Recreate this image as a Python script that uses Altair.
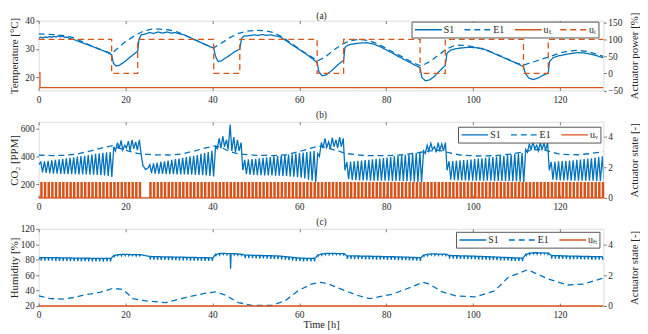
import altair as alt
import pandas as pd

BLUE = "#0072BD"
ORANGE = "#D95319"
INK = "#262626"
FONT = "Liberation Serif"

X_DOMAIN = [0, 130]
X_TICKS = [0, 20, 40, 60, 80, 100, 120]

# ---------------- panel (a): temperature / actuator power ----------------
TEMP_S1 = [(0, 33.8), (0.5, 34.2), (1, 33.9), (1.5, 34.3), (2, 34.0), (2.5, 34.4), (3, 34.1),
           (3.5, 34.5), (4, 34.2), (4.5, 34.6), (5, 34.3), (5.5, 34.5), (6, 34.1), (6.5, 34.2),
           (7, 33.8), (8, 33.4), (9, 32.8), (10, 32.2), (11, 31.7), (12, 31.1), (13, 30.5),
           (14, 29.9), (15, 29.3), (16, 28.6), (16.8, 28.0), (17.2, 25.0), (17.8, 24.0),
           (18.5, 24.2), (19.5, 25.2), (20.5, 26.4), (21.5, 27.7), (22.8, 29.2), (23.1, 33.5),
           (23.6, 35.0), (24.5, 35.3), (25.5, 35.8), (26.5, 35.5), (27.5, 36.0), (28.5, 35.6),
           (29.5, 36.0), (30.5, 35.6), (31.5, 35.8), (32.5, 35.3), (33.5, 35.0), (35, 33.9),
           (36.5, 32.9), (38, 31.8), (39.2, 31.0), (40.3, 30.3), (40.7, 27.5), (41.3, 25.6),
           (42, 25.8), (43, 26.8), (44, 27.8), (45, 28.9), (46.3, 30.0), (46.7, 33.8),
           (47.3, 34.6), (48.5, 34.7), (49.5, 35.0), (50.5, 34.8), (51.5, 35.1), (52.5, 34.8),
           (53.5, 35.0), (54.5, 34.6), (55.5, 34.3), (57, 32.9), (58.5, 31.3), (60, 29.8),
           (61.5, 28.3), (63, 26.6), (64.1, 25.2), (64.5, 22.0), (65.2, 20.6), (66, 20.7),
           (67, 21.8), (68, 23.1), (69, 24.6), (70.2, 26.0), (70.5, 30.5), (71.2, 31.4),
           (72.5, 31.8), (74, 32.1), (75.5, 32.2), (77, 31.8), (78.5, 30.9), (80, 29.7),
           (81.5, 28.5), (83, 27.2), (84.5, 26.0), (86, 24.8), (87.8, 23.4), (88.2, 20.0),
           (89, 18.8), (90, 19.1), (91, 20.2), (92, 21.8), (93.6, 24.2), (94, 28.5),
           (94.8, 29.6), (96, 30.1), (97.5, 30.4), (99, 30.6), (100.5, 30.5), (102, 30.2),
           (103.5, 29.4), (105, 28.3), (106.5, 27.3), (108, 26.3), (109.5, 25.3), (111.6, 23.8),
           (112, 21.5), (112.8, 19.8), (113.8, 19.2), (115, 19.8), (116.2, 20.8), (117.3, 21.5),
           (117.6, 25.5), (118.4, 26.9), (119.5, 27.5), (121, 28.0), (122.5, 28.4), (124, 28.7),
           (125.5, 28.6), (127, 28.2), (128.5, 27.6), (130, 26.9)]

TEMP_E1 = [(0, 35.3), (2, 35.2), (4, 35.0), (6, 34.7), (8, 34.0), (10, 32.6), (12, 31.2),
           (14, 30.0), (16.8, 28.4), (18, 30.0), (20, 32.6), (22, 34.6), (24, 36.2), (26, 37.0),
           (28, 37.0), (30, 36.7), (32, 36.0), (34, 34.6), (36, 33.2), (38, 31.8), (40.3, 30.4),
           (42, 32.0), (44, 34.0), (46, 35.5), (48, 36.3), (50, 36.6), (52, 36.5), (54, 35.8),
           (56, 34.3), (58, 32.2), (60, 30.0), (62, 28.0), (64.2, 25.8), (66, 27.2), (68, 29.7),
           (70, 31.8), (72, 33.0), (74, 33.4), (76, 33.0), (78, 31.8), (80, 30.2), (82, 28.6),
           (84, 27.0), (86, 25.3), (88, 24.0), (90, 25.5), (92, 27.8), (94, 30.1), (96, 31.4),
           (98, 31.3), (100, 30.8), (102, 30.0), (104, 29.0), (106, 27.8), (108, 26.4),
           (110, 25.0), (111.8, 24.4), (114, 25.5), (116, 26.5), (118, 27.5), (120, 28.6),
           (122, 29.3), (124, 29.5), (126, 29.2), (128, 28.4), (130, 27.4)]

U_T = [(0, 21.6), (0.3, 21.6), (0.3, 16.4), (130, 16.4)]

U_I = [(0, 100), (16.8, 100), (16.8, 0), (22.8, 0), (22.8, 100), (40.3, 100), (40.3, 0),
       (46.3, 0), (46.3, 100), (64.1, 100), (64.1, 0), (70.2, 0), (70.2, 100), (87.8, 100),
       (87.8, 0), (93.6, 0), (93.6, 100), (111.6, 100), (111.6, 0), (117.3, 0), (117.3, 100),
       (130, 100)]

# ---------------- panel (b): CO2 / ventilation ----------------
PULSE_T = [
    0.50, 1.34, 2.18, 3.02, 3.86, 4.70, 5.54, 6.38, 7.22, 8.06, 8.90, 9.74, 10.58, 11.42,
    12.26, 13.10, 13.94, 14.78, 15.62, 16.46,
    17.30, 18.14, 18.98, 19.82, 20.66, 21.50, 22.34, 23.18,
    25.60, 26.44, 27.28, 28.12, 28.96, 29.80, 30.64, 31.48, 32.32, 33.16, 34.00, 34.84,
    35.68, 36.52, 37.36, 38.20, 39.04, 39.88,
    40.72, 41.56, 42.40, 43.24, 44.08, 44.92, 45.76, 46.60,
    47.44, 48.28, 49.12, 49.96, 50.80, 51.64, 52.48, 53.32, 54.16, 55.00, 55.84, 56.68,
    57.52, 58.36, 59.20, 60.04, 60.88, 61.72, 62.56, 63.40,
    64.24, 65.08, 65.92, 66.76, 67.60, 68.44, 69.28, 70.12,
    70.96, 71.80, 72.64, 73.48, 74.32, 75.16, 76.00, 76.84, 77.68, 78.52, 79.36, 80.20,
    81.04, 81.88, 82.72, 83.56, 84.40, 85.24, 86.08, 86.92, 87.76,
    88.60, 89.44, 90.28, 91.12, 91.96, 92.80, 93.64,
    94.48, 95.32, 96.16, 97.00, 97.84, 98.68, 99.52, 100.36, 101.20, 102.04, 102.88,
    103.72, 104.56, 105.40, 106.24, 107.08, 107.92, 108.76, 109.60, 110.44, 111.28,
    112.12, 112.96, 113.80, 114.64, 115.48, 116.32, 117.16,
    118.00, 118.84, 119.68, 120.52, 121.36, 122.20, 123.04, 123.88, 124.72, 125.56,
    126.40, 127.24, 128.08, 128.92, 129.76,
]

CO2_PEAK = [
    360, 365, 368, 372, 375, 378, 382, 386, 390, 394, 398, 402, 405, 410, 414, 418, 422, 426, 430, 432,
    470, 500, 515, 480, 510, 520, 505, 520,
    340, 350, 355, 360, 365, 370, 375, 380, 385, 390, 395, 400, 405, 410, 418, 425, 432, 440,
    470, 530, 545, 520, 630, 540, 520, 500,
    375, 378, 380, 383, 386, 390, 393, 396, 400, 403, 406, 410, 413, 416, 420, 424, 428, 432, 436, 440,
    420, 500, 530, 505, 535, 520, 540, 530,
    360, 362, 365, 368, 370, 373, 376, 379, 382, 385, 388, 392, 396, 400, 404, 408, 412, 416, 420, 425, 430,
    440, 480, 495, 470, 500, 490, 500,
    365, 367, 369, 371, 373, 375, 378, 381, 384, 387, 390, 393, 396, 399, 402, 405, 409, 413, 417, 421, 425,
    450, 490, 505, 480, 500, 495, 500,
    360, 362, 364, 366, 368, 370, 372, 375, 378, 381, 384, 387, 391, 395, 400,
]

CO2_TROUGH = [
    285, 280, 278, 276, 275, 274, 273, 272, 272, 271, 270, 270, 269, 268, 268, 266, 265, 262, 258, 252,
    440, 455, 445, 460, 440, 455, 445, 420,
    280, 276, 274, 273, 272, 272, 271, 270, 270, 269, 268, 268, 267, 266, 265, 262, 258, 255,
    455, 460, 470, 450, 440, 430, 440, 300,
    272, 268, 266, 265, 264, 263, 262, 262, 261, 260, 259, 258, 256, 254, 250, 246, 240, 232, 224, 214,
    400, 460, 465, 455, 470, 460, 470, 300,
    235, 230, 228, 227, 226, 226, 225, 225, 225, 224, 224, 224, 223, 223, 222, 222, 221, 220, 218, 216, 212,
    420, 440, 450, 430, 445, 440, 300,
    232, 228, 227, 226, 226, 225, 225, 225, 224, 224, 224, 224, 223, 223, 223, 222, 222, 221, 220, 218, 214,
    430, 445, 455, 440, 450, 445, 300,
    232, 228, 227, 226, 226, 225, 225, 225, 224, 224, 224, 224, 223, 223, 225,
]

CO2_S1_EXTRA = [(0, 340), (24.0, 335), (24.6, 305), (25.2, 318)]

CO2_E1 = [(0, 410), (3, 406), (6, 408), (9, 418), (12, 440), (15, 465), (17, 478), (18.5, 460),
          (20.5, 440), (23, 420), (26, 412), (30, 410), (33, 418), (36, 440), (38.5, 462),
          (40.5, 476), (42, 465), (44, 435), (46, 418), (50, 408), (54, 406), (57, 412),
          (60, 435), (62.5, 458), (64.5, 475), (66.5, 462), (68.5, 442), (71, 420), (75, 406),
          (80, 405), (84, 412), (88, 430), (90, 440), (92, 445), (94, 430), (97, 410),
          (101, 403), (105, 405), (109, 418), (112, 435), (114, 448), (116, 450), (118, 432),
          (120, 415), (124, 412), (127, 420), (130, 435)]

# ---------------- panel (c): humidity ----------------
HUM_BASE = [
    82.6, 82.8, 82.8, 82.7, 82.6, 82.5, 82.4, 82.3, 82.2, 82.1, 82.0, 82.0, 81.9, 81.9, 81.8, 81.8, 81.8, 81.7, 81.7, 81.7,
    85.5, 86.5, 86.8, 86.8, 86.8, 86.6, 86.6, 86.5,
    84.2, 84.0, 83.9, 83.8, 83.7, 83.6, 83.5, 83.4, 83.3, 83.2, 83.1, 83.0, 82.9, 82.8, 82.7, 82.6, 82.5, 82.4,
    87.0, 88.0, 88.2, 88.0, 87.8, 87.8, 87.5, 87.0,
    86.0, 86.0, 85.8, 85.6, 85.5, 85.4, 85.3, 85.2, 85.0, 84.8, 84.5, 84.0, 83.5, 83.0, 82.5, 82.2, 82.0, 81.8, 81.8, 81.9,
    86.0, 87.5, 88.0, 88.2, 88.2, 88.0, 88.0, 87.8,
    85.0, 85.0, 84.9, 84.8, 84.7, 84.6, 84.5, 84.4, 84.3, 84.2, 84.1, 84.0, 83.9, 83.8, 83.6, 83.5, 83.3, 83.2, 83.0, 82.8, 82.6,
    86.0, 87.0, 87.5, 87.5, 87.3, 87.2, 87.0,
    85.5, 85.3, 85.2, 85.0, 84.9, 84.8, 84.6, 84.5, 84.3, 84.2, 84.0, 83.8, 83.6, 83.4, 83.2, 83.0, 82.8, 82.6, 82.4, 82.2, 82.0,
    87.0, 88.5, 89.0, 89.0, 88.8, 88.8, 88.5,
    85.5, 85.3, 85.2, 85.0, 84.8, 84.7, 84.6, 84.5, 84.4, 84.3, 84.2, 84.1, 84.0, 83.9, 83.8,
]

HUM_DIP = [
    3.8, 4.0, 4.1, 3.9, 4.0, 4.2, 3.9, 4.0, 4.1, 3.8, 4.0, 4.2, 3.9, 4.0, 4.1, 3.9, 4.0, 4.2, 3.9, 4.0,
    1.5, 1.2, 1.8, 1.4, 1.6, 1.3, 1.7, 1.5,
    4.0, 3.9, 4.1, 4.0, 3.8, 4.2, 4.0, 3.9, 4.1, 4.0, 3.8, 4.2, 4.0, 3.9, 4.1, 4.0, 3.9, 4.0,
    1.5, 1.8, 1.4, 1.6, 19.5, 1.5, 1.7, 1.4,
    4.0, 4.1, 3.9, 4.0, 4.2, 3.8, 4.0, 4.1, 3.9, 4.0, 4.2, 3.8, 4.0, 4.1, 3.9, 4.0, 4.2, 3.8, 4.0, 4.0,
    1.5, 1.6, 1.4, 1.7, 1.5, 1.3, 1.6, 1.5,
    4.0, 3.9, 4.1, 4.0, 3.8, 4.2, 4.0, 3.9, 4.1, 4.0, 3.8, 4.2, 4.0, 3.9, 4.1, 4.0, 3.8, 4.2, 4.0, 3.9, 4.0,
    1.5, 1.7, 1.4, 1.6, 1.5, 1.3, 1.6,
    4.0, 3.9, 4.1, 4.0, 3.8, 4.2, 4.0, 3.9, 4.1, 4.0, 3.8, 4.2, 4.0, 3.9, 4.1, 4.0, 3.8, 4.2, 4.0, 3.9, 4.0,
    1.5, 1.6, 1.4, 1.7, 1.5, 1.4, 1.6,
    4.0, 3.9, 4.1, 4.0, 3.8, 4.2, 4.0, 3.9, 4.1, 4.0, 3.8, 4.2, 4.0, 3.9, 4.0,
]

HUM_S1_EXTRA = [(0, 80.5), (0.3, 82.8)]

HUM_E1 = [(0, 33.2), (2.7, 29.6), (5.7, 28.8), (8, 31.0), (10.3, 34.1), (14, 37.5), (17, 42.8),
          (19.4, 41.5), (21.7, 29.6), (24.7, 26.6), (29.2, 24.4), (33.8, 30.9), (38.4, 36.7),
          (40.7, 38.4), (43, 34.1), (46, 24.4), (49.1, 20.9), (53.6, 20.9), (56.7, 26.6),
          (59.7, 39.7), (62.8, 48.5), (65, 50.7), (66.5, 49.0), (68.6, 44.1), (73.2, 34.1),
          (76.2, 29.6), (81.5, 35.4), (86, 45.0), (88.4, 50.7), (89.9, 48.5), (92.9, 38.4),
          (96, 33.2), (100.5, 31.8), (105, 39.7), (108.1, 57.3), (112.6, 67.0), (117.2, 55.1),
          (121.7, 47.2), (125.5, 48.5), (129.3, 55.1), (130, 56.0)]

U_H = [(0, 0), (130, 0)]

PULSE_WIDTH = 0.28   # h, width of one ventilation pulse
TROUGH_LAG = 0.38    # h, CO2 minimum after a pulse starts

# ---------------- build series ----------------
co2_s1 = sorted(CO2_S1_EXTRA
                + [(t, p) for t, p in zip(PULSE_T, CO2_PEAK)]
                + [(t + TROUGH_LAG, v) for t, v in zip(PULSE_T, CO2_TROUGH)])

u_v = [(0, 0)]
for t in PULSE_T:
    u_v += [(t, 0), (t, 1), (t + PULSE_WIDTH, 1), (t + PULSE_WIDTH, 0)]
u_v.append((130, 0))

hum_s1 = list(HUM_S1_EXTRA)
for t, b, d in zip(PULSE_T, HUM_BASE, HUM_DIP):
    hum_s1 += [(t, b), (t + 0.1, b - d), (t + 0.22, b)]


def long_df(series):
    rows = []
    for name, pts in series:
        for i, (t, v) in enumerate(pts):
            rows.append({"t": t, "v": v, "series": name, "i": i})
    return pd.DataFrame(rows)


W = 571
SOLID = [1, 0]
DASH = [6, 4]


def panel(left_series, right_series, names, colors, dashes, height, title_text, title_pad,
          left_dom, left_vals, left_title, right_dom, right_vals,
          right_title, leg_x, leg_y, x_title):
    leg = alt.Legend(orient="none", legendX=leg_x, legendY=leg_y, direction="horizontal",
                     columns=len(names), title=None, symbolType="M-1,0H5", symbolSize=81,
                     symbolStrokeWidth=1.4, labelFont=FONT, labelFontSize=10, labelColor=INK,
                     labelOffset=19, columnPadding=7, rowPadding=0, padding=2.5,
                     strokeColor="#555555", fillColor="white", cornerRadius=0)
    color = alt.Color("series:N", scale=alt.Scale(domain=names, range=colors), legend=leg)
    dash = alt.StrokeDash("series:N", scale=alt.Scale(domain=names, range=dashes), legend=leg)
    xscale = alt.Scale(domain=X_DOMAIN, nice=False, zero=False)
    xaxis = alt.Axis(values=X_TICKS, title=x_title, labelFont=FONT, labelFontSize=9.5,
                     labelColor=INK, labelPadding=4, labelFlush=False, labelOverlap=False,
                     ticks=False, domain=False, grid=True,
                     gridDash=[3, height - 6, 3, 2000], gridColor=INK, gridWidth=0.6,
                     gridOpacity=1, titleFont=FONT, titleFontSize=10.5,
                     titleFontWeight="normal", titleColor=INK, titlePadding=0)
    topaxis = alt.Axis(orient="top", title=title_text, labels=False, ticks=False,
                       domain=False, grid=False, titleFont=FONT, titleFontSize=9.5,
                       titleFontWeight="normal", titleColor=INK, titlePadding=title_pad)
    common = dict(labelFont=FONT, labelFontSize=9.5, labelColor=INK, labelPadding=1.5,
                  labelFlush=False, labelOverlap=False, ticks=True, tickSize=3,
                  tickColor=INK, tickWidth=0.6, domain=False, grid=False,
                  titleFont=FONT, titleFontSize=11, titleFontWeight="normal",
                  titleColor=INK, titleAngle=270)
    laxis = alt.Axis(orient="left", values=left_vals, title=left_title, titleX=-19,
                     titleBaseline="bottom", **common)
    raxis = alt.Axis(orient="right", values=right_vals, title=right_title, titleX=25,
                     titleBaseline="top", **common)
    left = alt.Chart(long_df(left_series)).mark_line(strokeWidth=1.3, clip=True).encode(
        x=alt.X("t:Q", scale=xscale, axis=xaxis),
        y=alt.Y("v:Q", scale=alt.Scale(domain=left_dom, nice=False, zero=False), axis=laxis),
        color=color, strokeDash=dash, order=alt.Order("i:Q"))
    right = alt.Chart(long_df(right_series)).mark_line(strokeWidth=1.3).encode(
        x=alt.X("t:Q", scale=xscale, axis=topaxis),
        y=alt.Y("v:Q", scale=alt.Scale(domain=right_dom, nice=False, zero=False), axis=raxis),
        color=color, strokeDash=dash, order=alt.Order("i:Q"))
    return alt.layer(left, right).resolve_scale(y="independent").resolve_axis(
        x="independent").properties(width=W, height=height)


pa = panel([("S1", TEMP_S1), ("E1", TEMP_E1), ("uₜ", U_T)], [("uᵢ", U_I)],
           ["S1", "E1", "uₜ", "uᵢ"], [BLUE, BLUE, ORANGE, ORANGE], [SOLID, DASH, SOLID, DASH],
           70.5, "(a)", 0.5, [15.4, 40], [20, 30, 40], "Temperature [°C]",
           [-50, 155], [-50, 0, 50, 100, 150], "Actuator power [%]", 377, 1, None)

pb = panel([("S1", co2_s1), ("E1", CO2_E1)], [("uᵥ", u_v)],
           ["S1", "E1", "uᵥ"], [BLUE, BLUE, ORANGE], [SOLID, DASH, SOLID],
           77, "(b)", 2.5, [100, 650], [200, 400, 600], "CO₂ [PPM]",
           [0, 5], [0, 2, 4], "Actuator state [-]", 424, 5, None)

pc = panel([("S1", hum_s1), ("E1", HUM_E1)], [("uₕ", U_H)],
           ["S1", "E1", "uₕ"], [BLUE, BLUE, ORANGE], [SOLID, DASH, SOLID],
           78, "(c)", 2.5, [20, 120], [20, 40, 60, 80, 100, 120], "Humidity [%]",
           [0, 5], [0, 2, 4], "Actuator state [-]", 422, 3, "Time [h]")

chart = alt.vconcat(pa, pb, pc, spacing=31.25, bounds="flush").resolve_scale(
    color="independent", strokeDash="independent"
).properties(padding=0).configure_view(stroke=INK, strokeWidth=0.6).configure(
    font=FONT, background="white")

chart.save("out.html", embed_options={"renderer": "svg", "actions": False})
